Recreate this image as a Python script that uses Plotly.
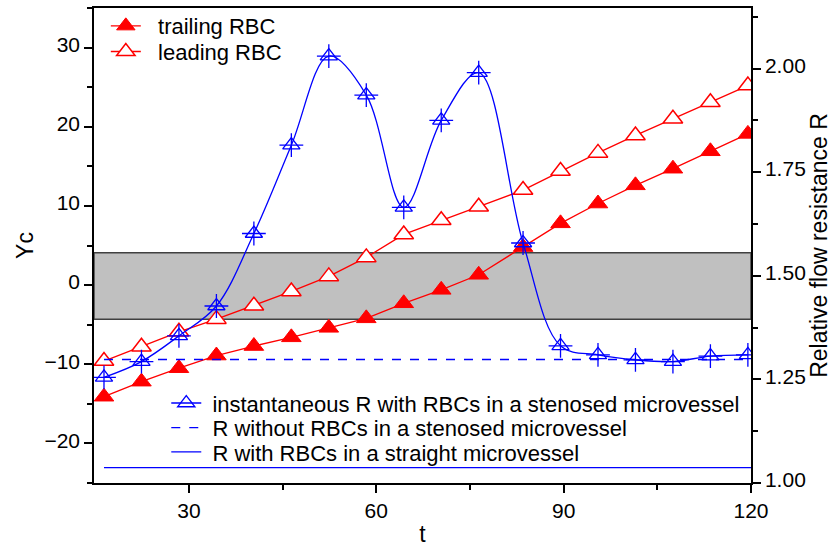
import plotly.graph_objects as go

# ---- data ----
t = [16.4, 22.4, 28.4, 34.4, 40.4, 46.4, 52.4, 58.4, 64.4, 70.4, 76.4,
     83.5, 89.5, 95.5, 101.5, 107.5, 113.5, 119.5]
trailing = [-14.1, -12.2, -10.5, -8.9, -7.7, -6.6, -5.4, -4.2, -2.3, -0.6, 1.3,
            4.8, 7.8, 10.3, 12.6, 14.7, 16.9, 19.1]
leading = [-9.6, -7.8, -5.9, -4.3, -2.6, -0.8, 1.1, 3.5, 6.4, 8.2, 9.9,
           12.0, 14.4, 16.7, 18.9, 21.0, 23.1, 25.2]
R_inst = [1.255, 1.293, 1.355, 1.427, 1.602, 1.815, 2.030, 1.936, 1.665, 1.875, 1.990,
          1.579, 1.331, 1.309, 1.297, 1.293, 1.306, 1.309]
line_t = [16.4, 120]
R_no_rbc = [1.298, 1.298]
R_straight = [1.037, 1.037]
band_yc = [-4.3, 4.07]

x_ticks = [30, 60, 90, 120]
x_range = [14.8, 120]
yc_range = [-25, 35]
r_range = [1.0, 2.146]

RED = "#ff0000"
BLUE = "#0000ff"
FONT = "Liberation Sans, Arial, sans-serif"
SP = "\u00a0"

fig = go.Figure()

fig.add_trace(go.Scatter(
    x=t, y=trailing, mode="lines+markers", name=SP * 2 + "trailing RBC",
    line=dict(color=RED, width=1.3),
    marker=dict(symbol="triangle-up", size=17, color=RED, line=dict(color=RED, width=1)),
    legend="legend"))
fig.add_trace(go.Scatter(
    x=t, y=leading, mode="lines+markers", name=SP * 2 + "leading RBC",
    line=dict(color=RED, width=1.3),
    marker=dict(symbol="triangle-up", size=17, color="white", line=dict(color=RED, width=1.5)),
    legend="legend2"))

fig.add_trace(go.Scatter(
    x=t, y=R_inst, mode="lines+markers", yaxis="y2",
    name=SP + "instantaneous R with RBCs in a stenosed microvessel",
    line=dict(color=BLUE, width=1.3, shape="spline", smoothing=1.0),
    marker=dict(symbol="triangle-up-open", size=15, color=BLUE, line=dict(width=1.3)),
    legend="legend3"))
fig.add_trace(go.Scatter(
    x=t, y=R_inst, mode="markers", yaxis="y2", showlegend=False, hoverinfo="skip",
    marker=dict(symbol="cross-thin-open", size=17, color=BLUE, line=dict(width=1.3, color=BLUE))))
fig.add_trace(go.Scatter(
    x=line_t, y=R_no_rbc, mode="lines", yaxis="y2",
    name=SP + "R without RBCs in a stenosed microvessel",
    line=dict(color=BLUE, width=1.3, dash="dash"), legend="legend4"))
fig.add_trace(go.Scatter(
    x=line_t, y=R_straight, mode="lines", yaxis="y2",
    name=SP + "R with RBCs in a straight microvessel",
    line=dict(color=BLUE, width=1.3), legend="legend5"))

fig.add_shape(type="rect", xref="paper", yref="y", x0=0, x1=1,
              y0=band_yc[0], y1=band_yc[1], fillcolor="#c0c0c0",
              line=dict(color="#404040", width=1.5), layer="below")

axis_common = dict(showline=True, linecolor="black", linewidth=1.5, ticks="outside",
                   ticklen=8, tickwidth=1.5, tickcolor="black", showgrid=False,
                   zeroline=False, automargin=False,
                   tickfont=dict(size=21, color="black", family=FONT))


def leg(x, y):
    return dict(x=x, y=y, xanchor="left", yanchor="middle", bgcolor="rgba(0,0,0,0)",
                font=dict(size=22, family=FONT, color="black"), tracegroupgap=0)


fig.update_layout(
    width=832, height=547,
    margin=dict(l=94, r=81, t=5, b=64),
    paper_bgcolor="white", plot_bgcolor="white",
    font=dict(family=FONT, color="black"),
    xaxis=dict(range=x_range, tickvals=x_ticks, mirror=True,
               minor=dict(tickvals=[45, 75, 105], ticklen=5, ticks="outside", tickwidth=1.5, tickcolor="black"),
               title=dict(text="t", font=dict(size=23), standoff=6), **axis_common),
    yaxis=dict(range=yc_range, dtick=10, tick0=0, ticklabelshift=-3,
               minor=dict(dtick=10, tick0=5, ticklen=5, ticks="outside", tickwidth=1.5, tickcolor="black"),
               title=dict(text="Yc", font=dict(size=23), standoff=4), **axis_common),
    yaxis2=dict(range=r_range, dtick=0.25, tick0=1.0, tickformat=".2f", overlaying="y", side="right",
                ticklabelshift=-3,
                minor=dict(dtick=0.25, tick0=1.125, ticklen=5, ticks="outside", tickwidth=1.5, tickcolor="black"),
                title=dict(text="Relative flow resistance R", font=dict(size=23), standoff=10),
                **axis_common),
    legend=leg(0.018, 0.962),
    legend2=leg(0.018, 0.908),
    legend3=leg(0.110, 0.168),
    legend4=leg(0.110, 0.116),
    legend5=leg(0.110, 0.065),
    showlegend=True,
)

fig.write_html("out.html")
